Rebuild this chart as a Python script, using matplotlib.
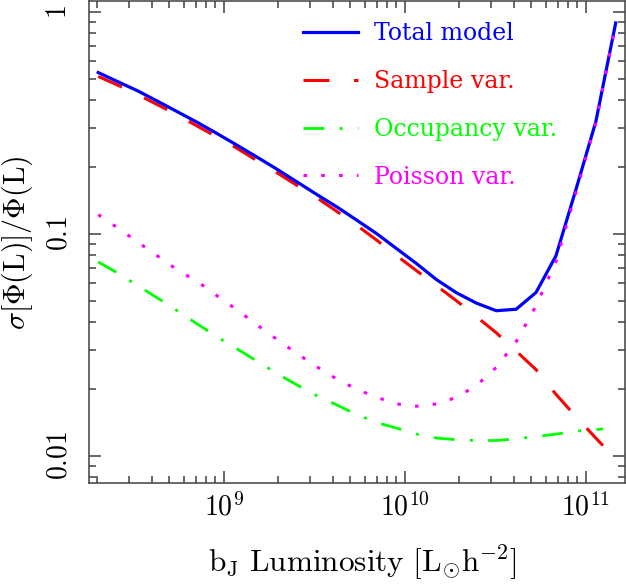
import matplotlib
matplotlib.use('Agg')
import matplotlib.pyplot as plt
from matplotlib.ticker import FixedLocator, LogLocator, NullFormatter

plt.rcParams['mathtext.fontset'] = 'cm'
plt.rcParams['lines.scale_dashes'] = False

# luminosity bins (L_sun h^-2)
lum = [2.023e8, 2.606e8, 3.357e8, 4.325e8, 5.572e8, 7.178e8, 9.247e8,
       1.191e9, 1.535e9, 1.977e9, 2.547e9, 3.281e9, 4.227e9, 5.445e9,
       7.015e9, 9.036e9, 1.164e10, 1.500e10, 1.932e10, 2.489e10, 3.206e10,
       4.130e10, 5.321e10, 6.855e10, 8.831e10, 1.138e11, 1.466e11]
# sample and occupancy terms stop a little short of the last bin
lum_short = lum[:-1] + [1.247e11]

total_model = [0.533, 0.484, 0.440, 0.395, 0.354, 0.317, 0.282, 0.250,
               0.221, 0.195, 0.171, 0.150, 0.132, 0.115, 0.100, 0.0856,
               0.0733, 0.0621, 0.0542, 0.0487, 0.0450, 0.0457, 0.0544,
               0.0796, 0.158, 0.320, 0.892]
sample_var = [0.512, 0.467, 0.423, 0.381, 0.342, 0.305, 0.272, 0.242,
              0.213, 0.188, 0.165, 0.145, 0.126, 0.109, 0.0935, 0.0796,
              0.0681, 0.0583, 0.0499, 0.0423, 0.0358, 0.0296, 0.0244,
              0.0189, 0.0150, 0.0120, 0.0111]
occupancy_var = [0.0746, 0.0664, 0.0583, 0.0512, 0.0448, 0.0391, 0.0342,
                 0.0302, 0.0266, 0.0234, 0.0208, 0.0186, 0.0169, 0.0153,
                 0.0141, 0.0133, 0.0125, 0.0120, 0.0118, 0.0117, 0.0117,
                 0.0119, 0.0122, 0.0125, 0.0129, 0.0131, 0.0132]
poisson_var = [0.122, 0.106, 0.0916, 0.0792, 0.0685, 0.0608, 0.0523,
               0.0452, 0.0387, 0.0333, 0.0288, 0.0251, 0.0221, 0.0199,
               0.0183, 0.0171, 0.0167, 0.0171, 0.0183, 0.0207, 0.0250,
               0.0326, 0.0474, 0.0748, 0.153, 0.316, 0.883]

fig = plt.figure(figsize=(6.26, 5.85), dpi=100)
ax = fig.add_axes([0.1422, 0.1744, 0.8562, 0.8239])

ax.plot(lum, total_model, color='#0000ff', lw=2.3, label='Total model',
        zorder=4)
ax.plot(lum_short, sample_var, color='#ff0000', lw=2.2,
        dashes=(18.7, 17.7), label='Sample var.', zorder=3)
ax.plot(lum_short, occupancy_var, color='#00ff00', lw=2.0,
        dashes=(15, 11, 2.2, 11), label='Occupancy var.', zorder=2)
ax.plot(lum, poisson_var, color='#ff00ff', lw=2.2, dashes=(2.6, 10.2),
        label='Poisson var.', zorder=5)

ax.set_xscale('log')
ax.set_yscale('log')
ax.set_xlim(1.8e8, 1.65e11)
ax.set_ylim(0.00753, 1.12)

ax.xaxis.set_major_locator(FixedLocator([1e9, 1e10, 1e11]))
ax.set_xticklabels([r'$10^{9}$', r'$10^{10}$', r'$10^{11}$'])
ax.xaxis.set_minor_locator(LogLocator(base=10, subs=range(2, 10)))
ax.xaxis.set_minor_formatter(NullFormatter())
ax.yaxis.set_major_locator(FixedLocator([0.01, 0.1, 1]))
ax.set_yticklabels([r'$0.01$', r'$0.1$', r'$1$'])
ax.yaxis.set_minor_locator(LogLocator(base=10, subs=range(2, 10)))
ax.yaxis.set_minor_formatter(NullFormatter())

for side in ax.spines.values():
    side.set_color('#404040')
    side.set_linewidth(1.1)
ax.tick_params(which='both', direction='in', top=True, right=True,
               color='#404040', width=1.1, labelsize=20)
ax.tick_params(which='major', length=8.5)
ax.tick_params(which='minor', length=5)
ax.tick_params(axis='x', pad=7)
ax.tick_params(axis='y', pad=12, labelrotation=90)
for lab in ax.get_yticklabels():
    lab.set_va('center')

ax.set_xlabel(r'$\mathrm{b_J\ Luminosity\ [L_{\odot}h^{-2}]}$', fontsize=22.5)
ax.xaxis.set_label_coords(0.511, -0.1245)
ax.set_ylabel(r'$\sigma[\Phi(\mathrm{L})]/\Phi(\mathrm{L})$', fontsize=21.5)
ax.yaxis.set_label_coords(-0.1007, 0.499)

leg = ax.legend(loc='upper left', bbox_to_anchor=(0.399, 0.956),
                frameon=False, prop={'family': 'DejaVu Serif', 'size': 17},
                handlelength=2.33, handletextpad=0.68, labelspacing=1.05,
                labelcolor='linecolor', borderaxespad=0, borderpad=0)

fig.savefig('out.png', dpi=100)
